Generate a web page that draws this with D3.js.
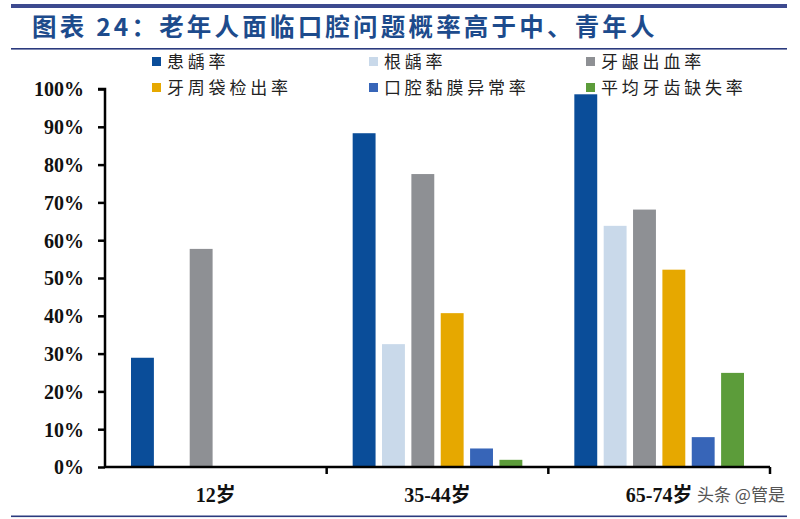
<!DOCTYPE html>
<html>
<head>
<meta charset="utf-8">
<script src="https://cdn.jsdelivr.net/npm/d3@7"></script>
<style>
  body { margin: 0; background: #fff; }
</style>
</head>
<body>
<div id="wrapper"></div>
<script>
// chart values
const categories = ["12岁", "35-44岁", "65-74岁"];
const seriesNames = ["患龋率", "根龋率", "牙龈出血率", "牙周袋检出率", "口腔黏膜异常率", "平均牙齿缺失率"];
const seriesColors = ["#0a4d99", "#c9d9ea", "#8e9094", "#e6a800", "#3765b8", "#5c9c3a"];
// one array per series, in category order (null = no bar)
const caries = [28.9, 88.3, 98.6];
const rootCaries = [null, 32.5, 63.8];
const gumBleeding = [57.7, 77.5, 68.1];
const pocket = [null, 40.7, 52.2];
const mucosa = [null, 4.9, 7.9];
const toothLoss = [null, 1.9, 24.9];
const yTicks = [0, 10, 20, 30, 40, 50, 60, 70, 80, 90, 100];
const legendLabels = ["患龋率", "根龋率", "牙龈出血率", "牙周袋检出率", "口腔黏膜异常率", "平均牙齿缺失率"];

const seriesValues = [caries, rootCaries, gumBleeding, pocket, mucosa, toothLoss];

const dimension = {
    width: 800,
    height: 519,
    margin: { top: 89, left: 105, bottom: 52, right: 30 }
};
dimension.boundedWidth = 770 - dimension.margin.left;
dimension.boundedHeight = 467 - dimension.margin.top;

const svg = d3.select("#wrapper").append("svg")
    .attr("width", dimension.width)
    .attr("height", dimension.height);

const navy = "#2b3a7e";

// frame lines + title
svg.append("rect").attr("x", 11).attr("y", 4).attr("width", 776).attr("height", 4).attr("fill", "#3d4a8f");
svg.append("rect").attr("x", 11).attr("y", 48).attr("width", 776).attr("height", 1.6).attr("fill", navy);
svg.append("rect").attr("x", 11).attr("y", 515.5).attr("width", 776).attr("height", 1.6).attr("fill", navy);

svg.append("text")
    .attr("x", 32)
    .attr("y", 36)
    .style("font-family", "'Noto Sans CJK SC', sans-serif")
    .style("font-weight", "bold")
    .style("font-size", "24.5px")
    .style("letter-spacing", "3.2px")
    .attr("fill", "#1d4b8c")
    .text("图表 24：老年人面临口腔问题概率高于中、青年人");

// legend
const legendX = [152, 369, 586];
const legendY = [62, 88];
const legend = svg.append("g");
legendLabels.forEach((name, i) => {
    const lx = legendX[i % 3], ly = legendY[Math.floor(i / 3)];
    const g = legend.append("g").attr("transform", `translate(${lx},${ly})`);
    g.append("rect").attr("x", 0).attr("y", -5).attr("width", 9).attr("height", 9).attr("fill", seriesColors[i]);
    g.append("text")
        .attr("x", 15)
        .attr("y", 6)
        .style("font-family", "'Noto Sans CJK SC', sans-serif")
        .style("font-size", "17px")
        .style("letter-spacing", "3.8px")
        .attr("fill", "#222")
        .text(name);
});

const bounded = svg.append("g")
    .attr("transform", `translate(${dimension.margin.left},${dimension.margin.top})`);

const x0 = d3.scaleBand()
    .domain(categories)
    .range([0, dimension.boundedWidth])
    .padding(0);

const x1 = d3.scaleBand()
    .domain(seriesNames)
    .range([26, x0.bandwidth() - 26])
    .paddingInner(0.22)
    .paddingOuter(0);

const yScaler = d3.scaleLinear()
    .domain([0, 100])
    .range([dimension.boundedHeight, 0]);

// bars
const groups = bounded.selectAll(".grp")
    .data(categories)
    .join("g")
    .attr("class", "grp")
    .attr("transform", d => `translate(${x0(d)},0)`);

groups.selectAll("rect")
    .data((c, ci) => seriesNames.map((s, si) => ({ s, si, v: seriesValues[si][ci] })).filter(d => d.v != null))
    .join("rect")
    .attr("x", d => x1(d.s))
    .attr("width", x1.bandwidth())
    .attr("y", d => yScaler(d.v))
    .attr("height", d => yScaler(0) - yScaler(d.v))
    .attr("fill", d => seriesColors[d.si]);

// y axis
const y_axis = d3.axisLeft(yScaler)
    .tickValues(yTicks)
    .tickSize(7)
    .tickPadding(14)
    .tickFormat(d => d + "%");

const yG = bounded.append("g").call(y_axis);
yG.select(".domain").attr("stroke", "#000").attr("stroke-width", 2.5).attr("d", `M-7,0H0V${dimension.boundedHeight}`);
yG.selectAll(".tick line").attr("stroke", "#000").attr("stroke-width", 2.5);
yG.selectAll(".tick text")
    .style("font-family", "'Liberation Serif', serif")
    .style("font-weight", "bold")
    .style("font-size", "20px")
    .attr("dy", "0.34em")
    .attr("fill", "#111");

// x axis: ticks at band edges
const xG = bounded.append("g").attr("transform", `translate(0,${dimension.boundedHeight})`);
xG.append("line")
    .attr("x1", 0).attr("x2", dimension.boundedWidth)
    .attr("stroke", "#000").attr("stroke-width", 2.5);
xG.selectAll(".edge")
    .data(categories)
    .join("line")
    .attr("class", "edge")
    .attr("x1", d => x0(d) + x0.bandwidth())
    .attr("x2", d => x0(d) + x0.bandwidth())
    .attr("y1", 0).attr("y2", 7)
    .attr("stroke", "#000").attr("stroke-width", 2.5);
xG.selectAll(".lbl")
    .data(categories)
    .join("text")
    .attr("class", "lbl")
    .attr("x", d => x0(d) + x0.bandwidth() / 2)
    .attr("y", 35)
    .attr("text-anchor", "middle")
    .style("font-family", "'Liberation Serif', 'Noto Sans CJK SC', serif")
    .style("font-weight", "bold")
    .style("font-size", "20px")
    .attr("fill", "#111")
    .text(d => d);

// watermark, kept just right of the last label
svg.append("text")
    .attr("x", 697)
    .attr("y", 501)
    .style("font-family", "'Noto Sans CJK SC', sans-serif")
    .style("font-size", "17px")
    .attr("fill", "#555")
    .text("头条 @管是");
</script>
</body>
</html>
